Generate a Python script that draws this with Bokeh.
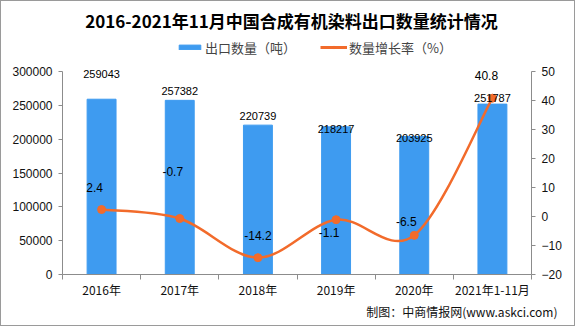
import numpy as np
from bokeh.plotting import figure
from bokeh.layouts import column
from bokeh.models import (Range1d, LinearAxis, FixedTicker, Label, Legend, LegendItem,
                          ColumnDataSource, LabelSet, BasicTickFormatter, Title)
from bokeh.core.properties import value
from bokeh.embed import file_html
from bokeh.resources import INLINE

# ---- data ----
categories = ["2016年", "2017年", "2018年", "2019年", "2020年", "2021年1-11月"]
export_qty = [259043, 257382, 220739, 218217, 203925, 251787]
growth_rate = [2.4, -0.7, -14.2, -1.1, -6.5, 40.8]
left_ticks = [0, 50000, 100000, 150000, 200000, 250000, 300000]
right_ticks = [-20, -10, 0, 10, 20, 30, 40, 50]

title_text = "2016-2021年11月中国合成有机染料出口数量统计情况"
source_text = "制图：中商情报网(www.askci.com)"

# ---- style ----
BAR_COLOR = "#3E9BF0"
LINE_COLOR = "#F26B2B"
AXIS_COLOR = "#8C8C8C"
CJK = "Noto Sans CJK SC"
NUM = "Liberation Sans"

B = 1                                  # page border width
W, H = 575 - 2 * B, 326 - 2 * B        # figure size inside the border
FL, FR, FT, FB = 62 - B, 531 - B, 71 - B, 274 - B   # axis area in figure pixels
frame_h = FB                           # frame spans from figure top to the x axis
scale = frame_h / (FB - FT)

LMIN, LMAX = 0, 300000
RMIN, RMAX = -20, 50

p = figure(width=W, height=H, output_backend="svg", toolbar_location=None,
           x_range=Range1d(0, len(categories)),
           y_range=Range1d(LMIN, LMIN + (LMAX - LMIN) * scale),
           min_border_left=FL, min_border_right=W - FR, min_border_top=0,
           min_border_bottom=H - FB)
p.outline_line_color = None
p.xgrid.visible = False
p.ygrid.visible = False
p.background_fill_color = "white"
p.border_fill_color = "white"

xs = np.arange(len(categories)) + 0.5

# x axis
xax = p.xaxis[0]
xax.ticker = FixedTicker(ticks=list(xs), minor_ticks=list(range(len(categories) + 1)))
xax.major_label_overrides = {float(x): c for x, c in zip(xs, categories)}
xax.major_tick_out = 0
xax.major_tick_in = 0
xax.minor_tick_out = 5
xax.minor_tick_in = 0
xax.minor_tick_line_color = AXIS_COLOR
xax.axis_line_color = AXIS_COLOR
xax.major_label_text_font = CJK
xax.major_label_text_font_size = "12px"
xax.major_label_text_color = "#111111"
xax.major_label_standoff = 1

# left axis
yax = p.yaxis[0]
yax.ticker = FixedTicker(ticks=left_ticks)
yax.bounds = (LMIN, LMAX)
yax.formatter = BasicTickFormatter(use_scientific=False)
yax.axis_line_color = AXIS_COLOR
yax.major_tick_line_color = AXIS_COLOR
yax.major_tick_out = 4
yax.major_tick_in = 0
yax.minor_tick_line_color = None
yax.major_label_text_font = NUM
yax.major_label_text_font_size = "12px"
yax.major_label_text_color = "#111111"
yax.major_label_standoff = 6

# right axis
p.extra_y_ranges = {"rate": Range1d(RMIN, RMIN + (RMAX - RMIN) * scale)}
rax = LinearAxis(y_range_name="rate", ticker=FixedTicker(ticks=right_ticks),
                 bounds=(RMIN, RMAX))
rax.axis_line_color = AXIS_COLOR
rax.major_tick_line_color = AXIS_COLOR
rax.major_tick_out = 4
rax.major_tick_in = 0
rax.minor_tick_line_color = None
rax.major_label_text_font = NUM
rax.major_label_text_font_size = "12px"
rax.major_label_text_color = "#111111"
rax.major_label_standoff = 6
p.add_layout(rax, "right")

# bars
bsrc = ColumnDataSource(dict(x=xs, top=export_qty, lab=[str(v) for v in export_qty],
                             dy=[25, 9, 9, -2, -1, 6]))
bars = p.vbar(x="x", top="top", width=0.37, source=bsrc, color=BAR_COLOR)
p.add_layout(LabelSet(x="x", y="top", text="lab", source=bsrc, y_offset="dy",
                      text_align="center", text_baseline="middle",
                      text_font=value(NUM), text_font_size=value("11px"),
                      text_color="#000000"))

# smooth line (cardinal spline through the data points, drawn as bezier segments)
gy = np.array(growth_rate, dtype=float)
px = np.concatenate([[xs[0]], xs, [xs[-1]]])
py = np.concatenate([[gy[0]], gy, [gy[-1]]])
n = len(xs)
x0 = xs[:-1]; y0 = gy[:-1]; x1 = xs[1:]; y1 = gy[1:]
cx0 = x0 + (px[2:n + 1] - px[0:n - 1]) / 6
cy0 = y0 + (py[2:n + 1] - py[0:n - 1]) / 6
cx1 = x1 - (px[3:n + 2] - px[1:n]) / 6
cy1 = y1 - (py[3:n + 2] - py[1:n]) / 6
p.bezier(x0=x0, y0=y0, x1=x1, y1=y1, cx0=cx0, cy0=cy0, cx1=cx1, cy1=cy1,
         line_color=LINE_COLOR, line_width=2.5, y_range_name="rate")
pts = p.scatter(xs, gy, size=8, color=LINE_COLOR, y_range_name="rate")
line_dummy = p.line([xs[0]], [gy[0]], line_color=LINE_COLOR, line_width=3,
                    y_range_name="rate")

lsrc = ColumnDataSource(dict(x=xs, y=gy, lab=[str(v) for v in growth_rate],
                             dy=[22, 47, 22, -13, 14, 23], dx=[-7, -7, 0, -7, -8, -6]))
p.add_layout(LabelSet(x="x", y="y", text="lab", source=lsrc, y_range_name="rate",
                      x_offset="dx", y_offset="dy",
                      text_align="center", text_baseline="middle",
                      text_font=value(NUM), text_font_size=value("12px"),
                      text_color="#000000"))

# legend (location = bottom-left corner, measured from the frame's bottom-left)
legend = Legend(items=[LegendItem(label="出口数量（吨）", renderers=[bars]),
                       LegendItem(label="数量增长率（%）", renderers=[line_dummy, pts])],
                orientation="horizontal", location=(176 - 62, FB - (57 - B)),
                label_text_font=CJK, label_text_font_size="13px",
                glyph_width=27, glyph_height=6, padding=0, margin=0, spacing=24,
                label_standoff=2, label_height=20,
                background_fill_alpha=0, border_line_color=None)
p.add_layout(legend, "center")

# title
p.add_layout(Label(x=291 - 62, y=FB - (20 - B), x_units="screen", y_units="screen",
                   text=title_text, text_align="center", text_baseline="middle",
                   text_font=CJK, text_font_size="17px", text_font_style="bold",
                   text_color="#000000"))
# source
p.add_layout(Title(text=source_text, align="right", offset=-26, standoff=0,
                   text_font=CJK, text_font_size="12px", text_font_style="normal",
                   text_color="#111111"), "below")

page = column(p, width=W, height=H,
              styles={"border": f"{B}px solid #9a9a9a", "box-sizing": "content-box"})

open("out.html", "w").write(file_html(page, INLINE))
